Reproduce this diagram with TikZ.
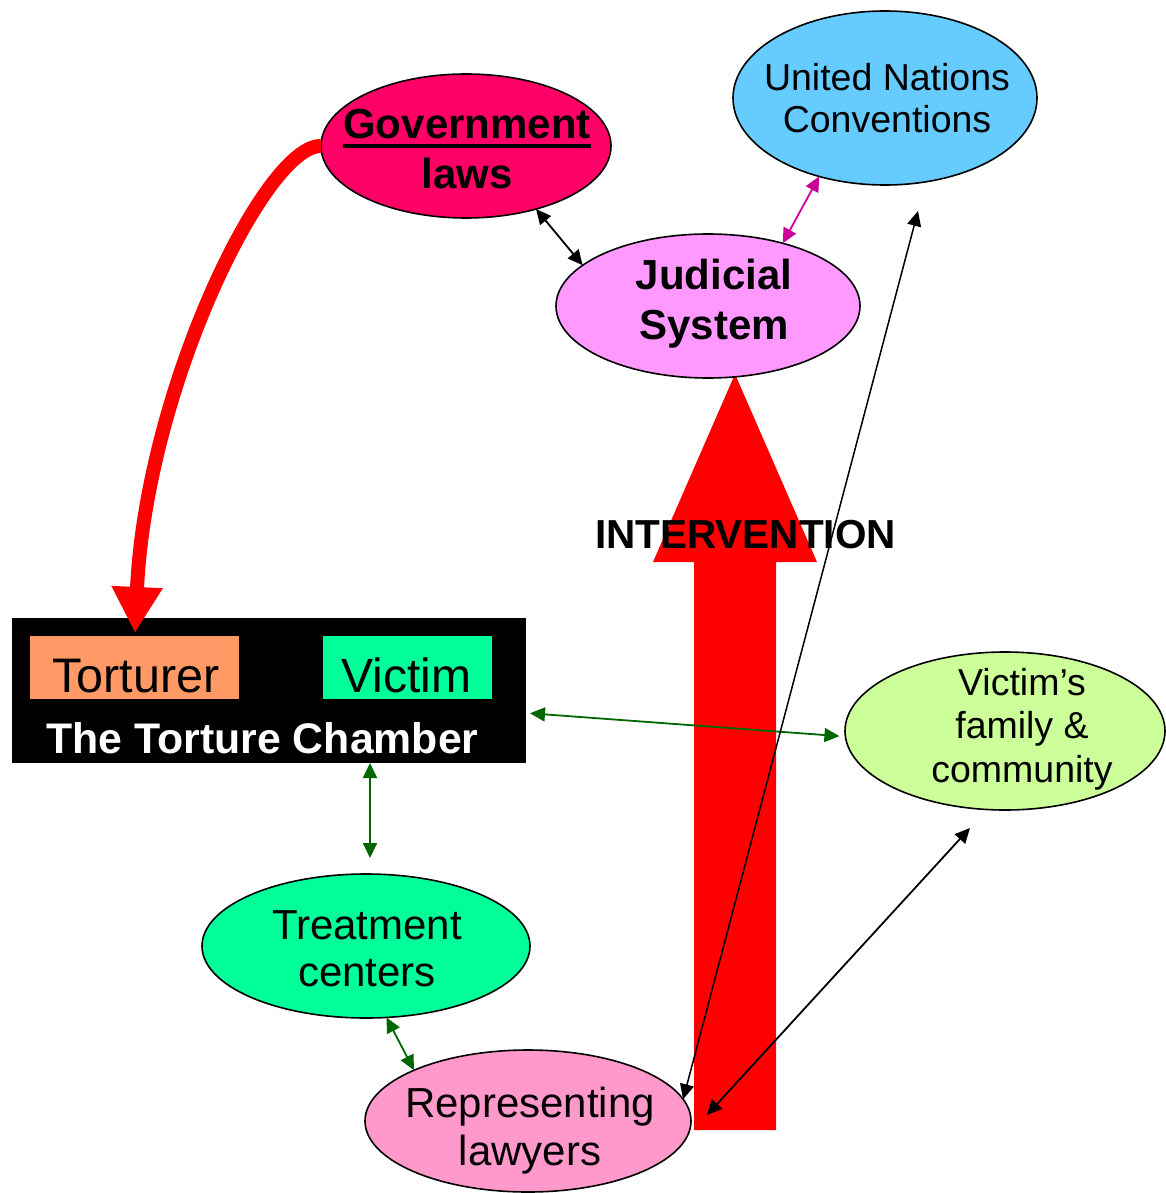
\documentclass[tikz,border=0pt]{standalone}
\usepackage{fontspec}
\setmainfont{Liberation Sans}
\usetikzlibrary{arrows.meta,shapes.geometric}
\definecolor{govc}{HTML}{FF0066}
\definecolor{unc}{HTML}{66CCFF}
\definecolor{judc}{HTML}{FF99FF}
\definecolor{famc}{HTML}{CCFF99}
\definecolor{treatc}{HTML}{00FF99}
\definecolor{reprc}{HTML}{FF99CC}
\definecolor{tortc}{HTML}{FF9966}
\definecolor{victc}{HTML}{00FF99}
\definecolor{bigred}{HTML}{FF0000}
\definecolor{dgreen}{HTML}{006600}
\definecolor{magc}{HTML}{CC0099}
\newcommand\myul[1]{\setbox0\hbox{#1}\rlap{\rule[-10pt]{\wd0}{4pt}}\box0}
\begin{document}
\begin{tikzpicture}[x=1pt,y=-1pt,
  ell/.style={ellipse, draw=black, line width=1.6pt, inner sep=0pt, outer sep=0pt},
  box/.style={rectangle, inner sep=0pt, outer sep=0pt},
  bigtxt/.style={font=\fontsize{42}{#1}\selectfont, align=center, inner sep=0pt},
  bigbold/.style={font=\fontsize{42}{#1}\selectfont\bfseries, align=center, inner sep=0pt},
  midtxt/.style={font=\fontsize{37.5}{#1}\selectfont, align=center, inner sep=0pt},
  conn/.style={line width=1.8pt, {Triangle[length=15pt,width=14pt]}-{Triangle[length=15pt,width=14pt]}},
]
\useasboundingbox (0,0) rectangle (1165,1193);

% big intervention arrow
\fill[bigred] (694,1130) -- (694,562) -- (653,562) -- (735,374) -- (817,562) -- (776,562) -- (776,1130) -- cycle;
\node[font=\fontsize{40.5}{48}\selectfont\bfseries, inner sep=0pt, anchor=base] (intt) at (745.5,548) {INTERVENTION};

% ellipses
\node[ell, fill=govc, minimum width=290pt, minimum height=144pt] (gov) at (466,146) {};
\node[bigbold=50] (govt) at (467,149) {\myul{Government}\\laws};

\node[ell, fill=unc, minimum width=304pt, minimum height=174pt] (un) at (885,98) {};
\node[midtxt=42] (unt) at (887,98) {United Nations\\Conventions};

\node[ell, fill=judc, minimum width=304pt, minimum height=144pt] (jud) at (708,306) {};
\node[bigbold=50] (judt) at (714,303.5) {Judicial\\System};

\node[ell, fill=famc, minimum width=320pt, minimum height=158pt] (fam) at (1005,731) {};
\node[midtxt=43.5] (famt) at (1022,729) {Victim’s\\family \&\\community};

\node[ell, fill=treatc, minimum width=328pt, minimum height=144pt] (treat) at (366,946) {};
\node[bigtxt=47] (treatt) at (367,949) {Treatment\\centers};

\node[ell, fill=reprc, minimum width=326pt, minimum height=142pt] (repr) at (528,1121) {};
\node[bigtxt=48] (reprt) at (530,1130.4) {Representing\\lawyers};

% torture chamber
\node[box, fill=black, minimum width=514pt, minimum height=145pt] (chamber) at (269,690.5) {};
\node[box, fill=tortc, minimum width=209pt, minimum height=63pt] (tort) at (134.5,667.5) {};
\node[box, fill=victc, minimum width=169pt, minimum height=63pt] (vict) at (407.5,667.5) {};
\node[inner sep=0pt, anchor=base, font=\fontsize{48.5}{50}\selectfont] (tortt) at (136,692) {Torturer};
\node[inner sep=0pt, anchor=base, font=\fontsize{48}{50}\selectfont] (victt) at (406.5,692) {Victim};
\node[inner sep=0pt, anchor=base, text=white, font=\fontsize{42.8}{48}\selectfont\bfseries] (chambert) at (262.5,753) {The Torture Chamber};

% curved red arrow
\draw[bigred, line width=14pt, -{Triangle[length=46pt,width=48pt]}]
  (gov.west) .. controls (265,145) and (146,390) .. (135,633);

% connectors
\coordinate (unlow) at (918,211);
\coordinate (famlow) at (970,828);
\coordinate (reprr) at (707,1115);
\draw[conn] (gov.-42) -- (jud.162.6);
\draw[conn, magc] (jud.40) -- (un.-130);
\draw[conn, dgreen, shorten <=4pt, shorten >=6pt] (chamber.-5.2) -- (fam.182);
\draw[conn, dgreen, shorten >=16pt] (chamber.south -| 370,0) -- (treat.north -| 370,0);
\draw[conn, dgreen] (treat.-74.2) -- (repr.156.4);
\draw[conn, line width=1.5pt] (repr.8.7) -- (unlow);
\draw[conn] (famlow) -- (reprr);
\end{tikzpicture}
\end{document}
